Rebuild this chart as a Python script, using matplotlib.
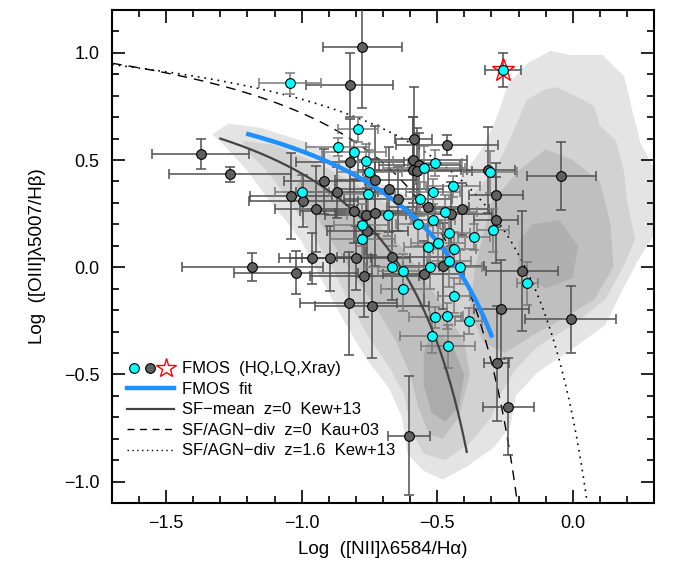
import numpy as np
import matplotlib
matplotlib.use("Agg")
import matplotlib.pyplot as plt
from matplotlib.lines import Line2D
from matplotlib.legend_handler import HandlerTuple

plt.rcParams['font.family'] = ['Liberation Sans', 'DejaVu Sans']

# FMOS high-quality (cyan) points: x, y, xerr, yerr
hq_x = [-1.044, -0.792, -0.867, -0.806, -0.762, -0.751, -0.508, -0.549, -0.306, -0.443,
        -0.515, -0.565, -0.472, -0.683, -0.515, -0.571, -0.295, -0.458, -0.365, -0.496,
        -0.533, -0.437, -0.754, -1.000, -0.779, -0.777, -0.666, -0.628, -0.527, -0.456,
        -0.415, -0.628, -0.438, -0.508, -0.465, -0.384, -0.519, -0.459, -0.167]
hq_y = [0.858, 0.644, 0.561, 0.539, 0.497, 0.446, 0.487, 0.464, 0.444, 0.377,
        0.353, 0.318, 0.257, 0.245, 0.219, 0.201, 0.172, 0.158, 0.142, 0.114,
        0.093, 0.083, 0.341, 0.352, 0.197, 0.130, 0.000, -0.017, 0.000, 0.029,
        0.002, -0.103, -0.132, -0.234, -0.227, -0.251, -0.320, -0.368, -0.075]
hq_xerr = [0.115, 0.074, 0.116, 0.118, 0.10, 0.12, 0.10, 0.15, 0.10, 0.10,
           0.10, 0.12, 0.12, 0.15, 0.08, 0.08, 0.06, 0.08, 0.06, 0.10,
           0.09, 0.08, 0.10, 0.10, 0.10, 0.12, 0.10, 0.09, 0.10, 0.08,
           0.08, 0.08, 0.06, 0.095, 0.06, 0.05, 0.118, 0.10, 0.04]
hq_yerr = [0.05, 0.058, 0.04, 0.05, 0.08, 0.10, 0.06, 0.10, 0.10, 0.05,
           0.06, 0.08, 0.08, 0.10, 0.06, 0.10, 0.10, 0.08, 0.06, 0.10,
           0.10, 0.08, 0.08, 0.08, 0.10, 0.08, 0.10, 0.08, 0.10, 0.12,
           0.08, 0.10, 0.08, 0.05, 0.06, 0.06, 0.078, 0.10, 0.10]

# FMOS low-quality (grey) points
lq_x = [-0.776, -0.823, -0.586, -0.464, -0.591, -0.566, -0.591, -0.573, -0.314, -0.678,
        -0.282, -0.645, -0.534, -0.408, -0.449, -0.283, -1.373, -1.265, -0.821, -0.728,
        -0.917, -0.870, -1.039, -0.994, -0.947, -0.807, -0.764, -0.728, -0.758, -0.963,
        -0.894, -0.800, -0.668, -1.182, -1.021, -0.769, -0.550, -0.477, -0.827, -0.742,
        -0.186, -0.263, -0.007, -0.281, -0.237, -0.604, -0.042]
lq_y = [1.026, 0.851, 0.597, 0.570, 0.500, 0.478, 0.453, 0.449, 0.452, 0.363,
        0.338, 0.319, 0.282, 0.271, 0.248, 0.220, 0.529, 0.433, 0.491, 0.407,
        0.400, 0.349, 0.332, 0.309, 0.271, 0.261, 0.243, 0.254, 0.170, 0.041,
        0.041, 0.044, 0.048, 0.000, -0.026, -0.042, -0.030, 0.006, -0.168, -0.182,
        -0.018, -0.197, -0.242, -0.449, -0.650, -0.786, 0.427]
lq_xerr = [0.145, 0.16, 0.068, 0.187, 0.20, 0.15, 0.20, 0.20, 0.10, 0.20,
           0.10, 0.20, 0.15, 0.10, 0.15, 0.08, 0.18, 0.225, 0.20, 0.15,
           0.15, 0.15, 0.15, 0.20, 0.15, 0.20, 0.15, 0.15, 0.15, 0.12,
           0.15, 0.20, 0.20, 0.26, 0.23, 0.20, 0.15, 0.15, 0.18, 0.21,
           0.133, 0.10, 0.168, 0.046, 0.094, 0.078, 0.128]
lq_yerr = [0.285, 0.15, 0.246, 0.047, 0.20, 0.15, 0.25, 0.20, 0.20, 0.20,
           0.15, 0.15, 0.20, 0.12, 0.15, 0.20, 0.07, 0.035, 0.20, 0.25,
           0.15, 0.12, 0.20, 0.12, 0.20, 0.15, 0.20, 0.25, 0.20, 0.12,
           0.15, 0.15, 0.20, 0.066, 0.10, 0.19, 0.15, 0.20, 0.24, 0.24,
           0.28, 0.23, 0.156, 0.27, 0.227, 0.277, 0.159]

# X-ray source
xr_x, xr_y, xr_xerr, xr_yerr = [-0.257], [0.92], [0.065], [0.078]

# SDSS density contours (outlines), light to dark
sdss_l1 = [(-1.33, 0.62), (-1.27, 0.67), (-1.15, 0.65), (-1.0, 0.59), (-0.85, 0.50), (-0.72, 0.40),
           (-0.6, 0.33), (-0.48, 0.32), (-0.40, 0.44), (-0.33, 0.56), (-0.28, 0.70), (-0.24, 0.85),
           (-0.17, 0.95), (-0.08, 1.01), (-0.01, 0.99), (0.11, 0.99), (0.19, 0.89), (0.22, 0.73),
           (0.25, 0.58), (0.30, 0.46), (0.30, 0.15), (0.24, 0.03), (0.19, -0.09), (0.12, -0.27),
           (0.0, -0.38), (-0.13, -0.49), (-0.21, -0.6), (-0.23, -0.74), (-0.29, -0.84), (-0.39, -0.93),
           (-0.48, -0.99), (-0.55, -0.95), (-0.61, -0.87), (-0.63, -0.70), (-0.68, -0.56), (-0.76, -0.43),
           (-0.84, -0.26), (-0.93, -0.05), (-1.0, 0.12), (-1.06, 0.22), (-1.12, 0.31), (-1.2, 0.45),
           (-1.28, 0.56)]
sdss_l2 = [(-1.22, 0.59), (-1.1, 0.57), (-0.95, 0.49), (-0.8, 0.39), (-0.68, 0.29), (-0.58, 0.22),
           (-0.5, 0.20), (-0.44, 0.22), (-0.39, 0.31), (-0.31, 0.42), (-0.26, 0.52), (-0.22, 0.63),
           (-0.17, 0.78), (-0.1, 0.83), (-0.06, 0.84), (0.04, 0.78), (0.08, 0.75), (0.1, 0.66),
           (0.16, 0.59), (0.19, 0.44), (0.2, 0.31), (0.23, 0.13), (0.19, 0.01), (0.12, -0.15),
           (0.0, -0.27), (-0.13, -0.37), (-0.22, -0.49), (-0.27, -0.6), (-0.3, -0.7), (-0.38, -0.82),
           (-0.47, -0.9), (-0.55, -0.87), (-0.6, -0.75), (-0.62, -0.6), (-0.67, -0.48), (-0.75, -0.33),
           (-0.82, -0.18), (-0.88, -0.02), (-0.96, 0.15), (-1.04, 0.3), (-1.13, 0.45), (-1.2, 0.54)]
sdss_l3_sf = [(-1.0, 0.42), (-0.85, 0.33), (-0.72, 0.2), (-0.62, 0.08), (-0.55, -0.05), (-0.47, -0.2),
              (-0.4, -0.35), (-0.38, -0.5), (-0.42, -0.7), (-0.48, -0.8), (-0.53, -0.78), (-0.57, -0.65),
              (-0.6, -0.5), (-0.65, -0.35), (-0.72, -0.2), (-0.8, -0.05), (-0.88, 0.1), (-0.95, 0.25),
              (-1.02, 0.38)]
sdss_l3_agn = [(-0.3, 0.3), (-0.2, 0.45), (-0.1, 0.55), (0.0, 0.5), (0.1, 0.4), (0.14, 0.2),
               (0.15, 0.0), (0.08, -0.15), (-0.05, -0.25), (-0.15, -0.32), (-0.25, -0.4),
               (-0.33, -0.35), (-0.38, -0.2), (-0.36, 0.0), (-0.33, 0.15)]
sdss_l4_sf = [(-0.52, -0.3), (-0.45, -0.35), (-0.40, -0.5), (-0.42, -0.65), (-0.47, -0.72),
              (-0.52, -0.68), (-0.55, -0.55), (-0.55, -0.4)]
sdss_l4_agn = [(-0.15, 0.2), (-0.05, 0.22), (0.02, 0.1), (0.0, -0.05), (-0.1, -0.1),
               (-0.2, 0.0), (-0.2, 0.12)]

# curve coefficients  y = a / (x - b) + c
kew13_mean = (0.61, -0.08, 1.10)
kau03 = (0.61, 0.05, 1.30)
kew13_z16 = (0.61, 0.02 + 0.1833 * 1.6, 1.2 + 0.03 * 1.6)
fmos_fit = (0.61, 0.137, 1.078)


def curve(p, x):
    return p[0] / (x - p[1]) + p[2]


fig = plt.figure(figsize=(6.73, 5.71), dpi=100)
ax = fig.add_axes([0.1664, 0.1191, 0.8054, 0.8634])

for poly, col in [(sdss_l1, '#e4e4e4'), (sdss_l2, '#d2d2d2'), (sdss_l3_sf, '#bfbfbf'),
                  (sdss_l3_agn, '#bfbfbf'), (sdss_l4_sf, '#ababab'), (sdss_l4_agn, '#b0b0b0')]:
    px, py = zip(*poly)
    ax.fill(px, py, color=col, lw=0, zorder=1)

xx = np.linspace(-1.7, 0.04, 400)
ax.plot(xx, curve(kau03, xx), color='k', ls=(0, (7, 5)), lw=1.0, zorder=2)
xx = np.linspace(-1.7, 0.3, 600)
ax.plot(xx, curve(kew13_z16, xx), color='k', ls=(0, (1, 3)), lw=1.2, zorder=2)

ax.errorbar(lq_x, lq_y, xerr=lq_xerr, yerr=lq_yerr, fmt='none', ecolor='#505050',
            elinewidth=1.1, capsize=3.5, capthick=1.1, zorder=3)
ax.errorbar(hq_x, hq_y, xerr=hq_xerr, yerr=hq_yerr, fmt='none', ecolor='#7a7a7a',
            elinewidth=1.1, capsize=3.5, capthick=1.1, zorder=3)
ax.errorbar(xr_x, xr_y, xerr=xr_xerr, yerr=xr_yerr, fmt='none', ecolor='#505050',
            elinewidth=1.1, capsize=3.5, capthick=1.1, zorder=3)

xx = np.linspace(-1.30, -0.391, 200)
ax.plot(xx, curve(kew13_mean, xx), color='#444444', lw=1.6, zorder=4)
xx = np.linspace(-1.197, -0.30, 200)
ax.plot(xx, curve(fmos_fit, xx), color='#1e90ff', lw=3.2, zorder=4)

ax.plot(lq_x, lq_y, 'o', ms=7, mfc='#606060', mec='k', mew=0.8, ls='none', zorder=5)
ax.plot(hq_x, hq_y, 'o', ms=7, mfc='#00ffff', mec='k', mew=0.8, ls='none', zorder=5)
ax.plot(xr_x, xr_y, '*', ms=17, mfc='none', mec='red', mew=1.0, ls='none', zorder=5)
ax.plot(xr_x, xr_y, 'o', ms=7, mfc='#00ffff', mec='k', mew=0.8, ls='none', zorder=6)

ax.set_xlim(-1.7, 0.3)
ax.set_ylim(-1.1, 1.2)
ax.set_xticks([-1.5, -1.0, -0.5, 0.0])
ax.set_yticks([-1.0, -0.5, 0.0, 0.5, 1.0])
ax.set_xticks(np.arange(-1.7, 0.31, 0.1), minor=True)
ax.set_yticks(np.arange(-1.1, 1.21, 0.1), minor=True)
ax.set_xticklabels(['\u22121.5', '\u22121.0', '\u22120.5', '0.0'])
ax.set_yticklabels(['\u22121.0', '\u22120.5', '0.0', '0.5', '1.0'])
ax.tick_params(which='both', direction='in', top=True, right=True, width=1.2, labelsize=13, pad=9)
ax.tick_params(which='major', length=9.5)
ax.tick_params(which='minor', length=5)
for s in ax.spines.values():
    s.set_linewidth(1.5)

ax.set_xlabel('Log  ([NII]\u03bb6584/H\u03b1)', fontsize=13.5, labelpad=6)
ax.set_ylabel('Log  ([OIII]\u03bb5007/H\u03b2)', fontsize=13.5, labelpad=13)

h_pts = (Line2D([], [], marker='o', ms=7, mfc='#00ffff', mec='k', mew=0.8, ls='none'),
         Line2D([], [], marker='o', ms=7, mfc='#606060', mec='k', mew=0.8, ls='none'),
         Line2D([], [], marker='*', ms=15, mfc='none', mec='red', mew=1.0, ls='none'))
h_fit = Line2D([], [], color='#1e90ff', lw=3.2)
h_mean = Line2D([], [], color='#444444', lw=1.6)
h_kau = Line2D([], [], color='k', ls=(0, (5, 4)), lw=1.0)
h_kew = Line2D([], [], color='k', ls=(0, (1, 2.5)), lw=1.0)
ax.legend([h_pts, h_fit, h_mean, h_kau, h_kew],
          ['FMOS  (HQ,LQ,Xray)', 'FMOS  fit', 'SF\u2212mean  z=0  Kew+13',
           'SF/AGN\u2212div  z=0  Kau+03', 'SF/AGN\u2212div  z=1.6  Kew+13'],
          handler_map={tuple: HandlerTuple(ndivide=None, pad=0.1)},
          loc='lower left', bbox_to_anchor=(0.0, 0.06), frameon=False, fontsize=12,
          handlelength=2.8, handletextpad=0.5, labelspacing=0.33, borderaxespad=0.5)

fig.savefig('out.png', dpi=100)
